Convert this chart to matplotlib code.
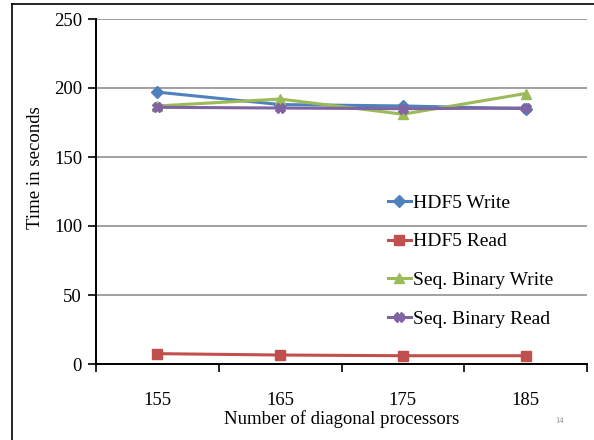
import matplotlib
matplotlib.use("Agg")
import matplotlib.pyplot as plt

processors = ["155", "165", "175", "185"]
hdf5_write = [197, 188, 187, 185]
hdf5_read = [7.5, 6.5, 6, 6]
seq_write = [187, 192, 181, 196]
seq_read = [186, 185.5, 185, 185.5]

series = [
    ("HDF5 Write", hdf5_write, "#4F81BD", "D", 6),
    ("HDF5 Read", hdf5_read, "#C0504D", "s", 7),
    ("Seq. Binary Write", seq_write, "#9BBB59", "^", 7),
    ("Seq. Binary Read", seq_read, "#8064A2", "X", 7),
]

plt.rcParams["font.family"] = ["Liberation Serif", "DejaVu Serif"]

fig = plt.figure(figsize=(5.94, 4.40), dpi=100)
ax = fig.add_axes([96 / 594, 1 - 364 / 440, (587 - 96) / 594, (364 - 19) / 440])

x = list(range(len(processors)))
for name, vals, color, marker, ms in series:
    ax.plot(x, vals, color=color, lw=2.2, marker=marker, ms=ms,
            markeredgecolor=color, label=name)

ax.set_xlim(-0.5, len(processors) - 0.5)
ax.set_ylim(0, 250)
ax.set_yticks(range(0, 251, 50))
ax.set_xticks(x)
ax.set_xticklabels(processors)
ax.set_xticks([i - 0.5 for i in range(len(processors) + 1)], minor=True)
ax.tick_params(axis="x", which="major", length=0, pad=20, labelsize=13.5)
ax.tick_params(axis="x", which="minor", length=6, width=1.2, direction="out")
ax.tick_params(axis="y", length=6, width=1.2, direction="out", labelsize=13.5, pad=4)

ax.yaxis.grid(True, color="#868686", lw=1.1)
ax.set_axisbelow(True)
for side in ["top", "right"]:
    ax.spines[side].set_visible(False)
ax.spines["left"].set_linewidth(1.4)
ax.spines["bottom"].set_linewidth(1.4)

ax.set_xlabel("Number of diagonal processors", fontsize=13.5, labelpad=1)
fig.text(35 / 594, 1 - 168 / 440, "Time in seconds", rotation=90,
         ha="center", va="center", fontsize=13.5)

ax.legend(loc="upper left", bbox_to_anchor=(0.578, 0.515), frameon=False,
          fontsize=14, handlelength=1.2, handletextpad=0.1, labelspacing=1.08,
          borderaxespad=0)

fig.text(560 / 594, 1 - 421 / 440, "14", fontsize=6, color="#8c8c8c",
         ha="center", va="center")

# page frame
fig.add_artist(plt.Line2D([12 / 594, 12 / 594], [0, 1 - 4 / 440],
                          transform=fig.transFigure, color="black", lw=1.2))
fig.add_artist(plt.Line2D([12 / 594, 1], [1 - 4 / 440, 1 - 4 / 440],
                          transform=fig.transFigure, color="black", lw=1.2))

fig.savefig("out.png", dpi=100)
